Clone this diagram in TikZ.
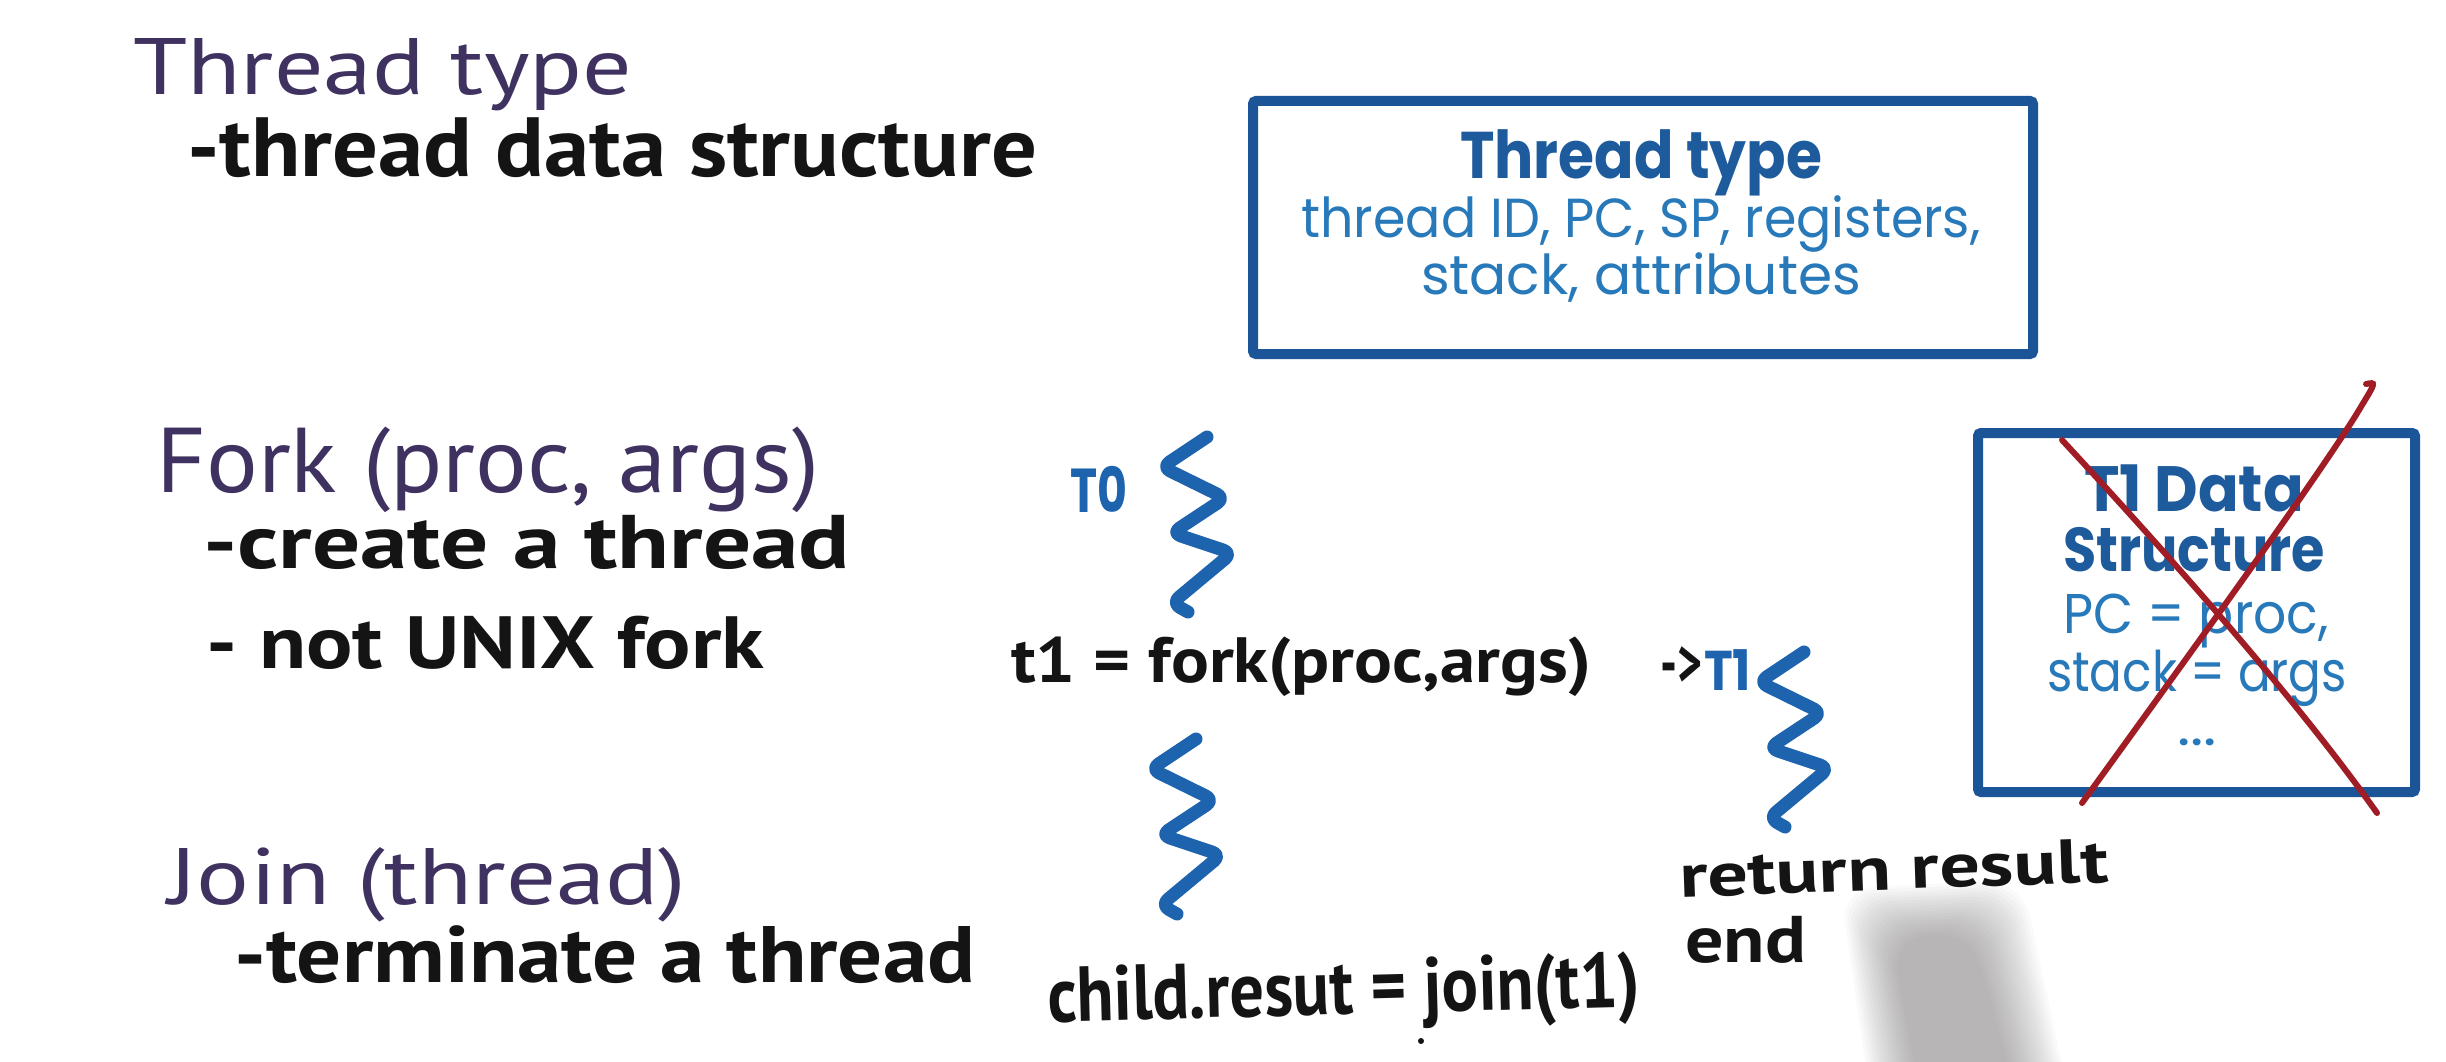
\documentclass[tikz,border=0pt]{standalone}
\usepackage{fontspec}
\usepackage{graphicx}
\setmainfont{PT Sans}
\newfontfamily\geo{Poppins}

\definecolor{ink}{HTML}{141414}
\definecolor{plum}{HTML}{3F3160}
\definecolor{wave}{HTML}{1D63AE}
\definecolor{framec}{HTML}{1B5597}
\definecolor{boxtext}{HTML}{2779BA}
\definecolor{boxhead}{HTML}{1D5B9C}
\definecolor{cross}{HTML}{A11D26}
\definecolor{shadec}{HTML}{6A6262}

% set a size in pt, and squeeze a text to a given width keeping its height
\newcommand\pfs[1]{\fontsize{#1}{#1}\selectfont}
\newcommand\fitw[2]{\resizebox{#1}{\height}{#2}}

\tikzset{
  hand/.style={anchor=base west, inner sep=0pt, text=ink},
  head/.style={anchor=base west, inner sep=0pt, text=plum},
  boxline/.style={anchor=base, inner sep=0pt, text=boxtext},
  boxtitle/.style={anchor=base, inner sep=0pt, text=boxhead},
  tlabel/.style={anchor=base west, inner sep=0pt, text=wave},
  wavy/.style={draw=wave, line width=13pt, line cap=round, line join=round, rounded corners=9pt},
  framebox/.style={draw=framec, line width=10pt, rounded corners=3pt},
  xmark/.style={draw=cross, line width=6pt, line cap=round},
  thread/.pic={\draw[wavy] (0,0) -- (-45,30) -- (18,61) -- (-35,96) -- (25,116) -- (-35,166) -- (-19,175);}
}

\begin{document}
\begin{tikzpicture}[x=1pt, y=-1pt]
\useasboundingbox (0,0) rectangle (2446,1062);
\fill[white] (0,0) rectangle (2446,1062);
\clip (0,0) rectangle (2446,1062);

% pen shadow, soft edged: many faint nested insets
\foreach \d in {0,3,...,51}
  \fill[shadec, opacity=0.032, rounded corners=36pt]
    (1840+\d,888+\d) -- (2022-\d,880+\d) -- (2072-\d,1110) -- (1872+\d,1110) -- cycle;

% left column of notes
\node[head, font=\pfs{80}] (tt) at (133,95) {\fitw{499pt}{Thread type}};
\node[hand, font=\bfseries\pfs{84}] (ttd) at (187,176) {\fitw{850pt}{-thread data structure}};
\node[head, font=\pfs{92}] (fk) at (156,492) {\fitw{663pt}{Fork (proc, args)}};
\node[hand, font=\bfseries\pfs{76}] (fk1) at (203,568) {\fitw{647pt}{-create a thread}};
\node[hand, font=\bfseries\pfs{74}] (fk2) at (206,668) {\fitw{558pt}{- not UNIX fork}};
\node[head, font=\pfs{80}] (jn) at (168,904) {\fitw{518pt}{Join (thread)}};
\node[hand, font=\bfseries\pfs{80}] (jn1) at (234,982) {\fitw{741pt}{-terminate a thread}};

% thread type box
\draw[framebox] (1253,101) rectangle (2033,354);
\node[boxtitle, font=\geo\bfseries\pfs{66}] (bt) at (1641,178) {\fitw{362pt}{Thread type}};
\node[boxline, font=\geo\pfs{55}] (bl1) at (1641,237) {\fitw{679pt}{thread ID, PC, SP, registers,}};
\node[boxline, font=\geo\pfs{55}] (bl2) at (1641,294) {\fitw{440pt}{stack, attributes}};

% threads
\node[tlabel, font=\geo\bfseries\pfs{62}] (t0) at (1070,512) {\fitw{57pt}{T0}};
\pic at (1207,437) {thread};
\node[hand, font=\bfseries\pfs{64}] (fc) at (1011,682) {\fitw{580pt}{t1 = fork(proc,args)}};
\node[hand, font=\bfseries\pfs{68}] (ar) at (1660,686) {\fitw{42pt}{->}};
\node[tlabel, font=\geo\bfseries\pfs{56}] (t1) at (1704,690) {\fitw{47pt}{T1}};
\pic at (1196,739) {thread};
\pic at (1804,652) {thread};

\node[hand, font=\bfseries\pfs{78}, rotate=1.5] (jc) at (1048,1022) {\fitw{593pt}{child.resut = join(t1)}};
\fill[ink] (1421,1041) circle (3);
\node[hand, font=\bfseries\pfs{62}, rotate=2] (rr) at (1680,897) {\fitw{429pt}{return result}};
\node[hand, font=\bfseries\pfs{66}] (en) at (1685,962) {\fitw{121pt}{end}};

% T1 data structure box, crossed out
\draw[framebox] (1978,433) rectangle (2415,792);
\node[boxtitle, font=\geo\bfseries\pfs{64}] (d1) at (2194,511) {\fitw{220pt}{T1 Data}};
\node[boxtitle, font=\geo\bfseries\pfs{62}] (d2) at (2194,571) {\fitw{262pt}{Structure}};
\node[boxline, font=\geo\pfs{56}] (d3) at (2196,633) {\fitw{265pt}{PC = proc,}};
\node[boxline, font=\geo\pfs{56}] (d4) at (2197,691) {\fitw{300pt}{stack = args}};
\node[boxline, font=\geo\pfs{56}] (d5) at (2197,745) {\fitw{40pt}{...}};
\draw[xmark] (2062,440) .. controls (2150,535) and (2290,690) .. (2377,813);
\draw[xmark] (2082,803) .. controls (2200,640) and (2330,460) .. (2362,405)
             .. controls (2376,382) .. (2366,384);
\end{tikzpicture}
\end{document}
